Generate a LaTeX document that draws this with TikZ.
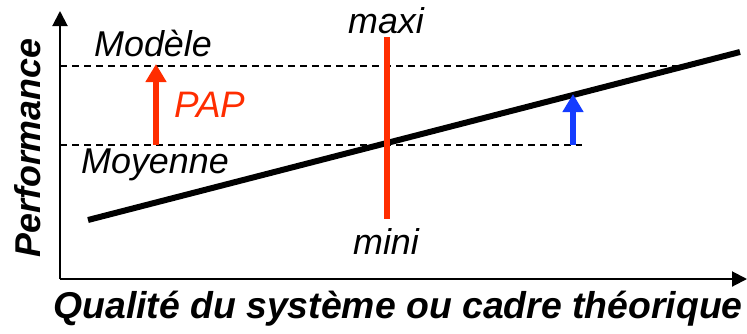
\documentclass[tikz,border=0pt]{standalone}
\usepackage{fontspec}
\setmainfont{Liberation Sans}
\usetikzlibrary{arrows.meta}
\definecolor{papred}{RGB}{255,45,0}
\definecolor{gainblue}{RGB}{20,60,255}

\begin{document}
\begin{tikzpicture}[x=1bp, y=-1bp, font=\fontsize{36}{40}\selectfont\itshape]
\useasboundingbox (0,0) rectangle (747,333);
% axes
\draw[line width=2bp, -{Triangle[width=15bp,length=15bp]}] (60,279) -- (60,11);
\draw[line width=2bp, -{Triangle[width=15bp,length=15bp]}] (60,279) -- (747,279);
\node[rotate=90, font=\fontsize{36}{40}\selectfont\bfseries\itshape] (perf) at (28,148) {Performance};
\node[font=\fontsize{37.5}{40}\selectfont\bfseries\itshape] (qual) at (398,309) {Qualité du système ou cadre théorique};
% reference levels
\draw[line width=1.5bp, dash pattern=on 7bp off 5bp] (60,66) -- (680,66);
\draw[line width=1.5bp, dash pattern=on 7bp off 5bp] (60,145) -- (582,145);
\node (modele) at (153,43) {Modèle};
\node (moyenne) at (155,165) {Moyenne};
% performance line and range
\draw[line width=6bp] (88,220) -- (740,52);
\draw[papred, line width=6bp] (387,37) -- (387,219);
\node (maxi) at (386,21) {maxi};
\node (mini) at (386,241) {mini};
% gap arrows
\draw[papred, line width=6bp, -{Triangle[width=20bp,length=18bp]}] (156,145) -- (156,64);
\node[papred, font=\fontsize{37}{40}\selectfont\itshape] (pap) at (210,105) {PAP};
\draw[gainblue, line width=6bp, -{Triangle[width=20bp,length=18bp]}] (573,145) -- (573,94);
\end{tikzpicture}
\end{document}
